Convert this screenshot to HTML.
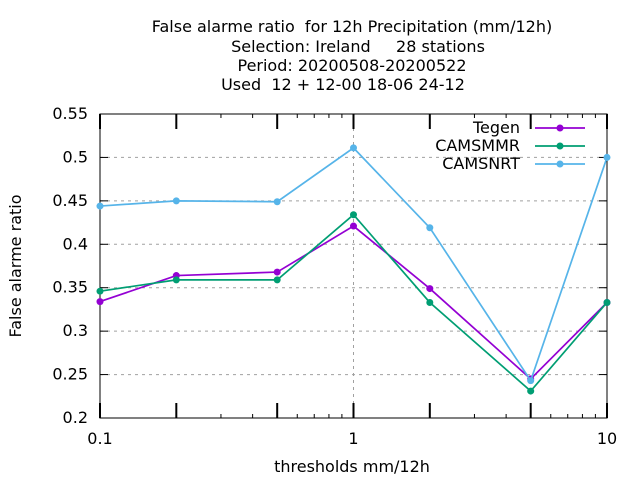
<!DOCTYPE html>
<html><head><meta charset="utf-8"><style>
body{margin:0;background:#fff}
svg text{font-family:"DejaVu Sans",sans-serif;font-size:16px;fill:#000;white-space:pre}
</style></head><body>
<svg id="chart" width="640" height="480">
<g text-anchor="middle">
<text x="352" y="32" xml:space="preserve">False alarme ratio  for 12h Precipitation (mm/12h)</text>
<text x="358" y="52" xml:space="preserve">Selection: Ireland     28 stations</text>
<text x="352" y="71" xml:space="preserve">Period: 20200508-20200522</text>
<text x="343" y="90" xml:space="preserve">Used  12 + 12-00 18-06 24-12</text>
</g>
<g id="grid"></g><g id="axes"></g><g id="series"></g>
<text x="352" y="472" text-anchor="middle">thresholds mm/12h</text>
<text transform="translate(21,266) rotate(-90)" text-anchor="middle">False alarme ratio</text>
</svg>
<script>
const thresholds=[0.1,0.2,0.5,1,2,5,10];
const seriesNames=["Tegen","CAMSMMR","CAMSNRT"];
const tegen=[0.334,0.364,0.368,0.421,0.349,0.245,0.333];
const camsmmr=[0.346,0.359,0.359,0.434,0.333,0.231,0.333];
const camsnrt=[0.444,0.450,0.449,0.511,0.419,0.243,0.500];
const yTicks=[0.2,0.25,0.3,0.35,0.4,0.45,0.5,0.55];
const yTickLabels=["0.2","0.25","0.3","0.35","0.4","0.45","0.5","0.55"];
const xTickLabels=[[0.1,"0.1"],[1,"1"],[10,"10"]];
const xMinor=[0.3,0.4,0.6,0.7,0.8,0.9,3,4,6,7,8,9];
const colors=["#9400d3","#009e73","#56b4e9"];
const L=100,R=607,T=114,B=418;
const xs=v=>L+(Math.log10(v)+1)/2*(R-L);
const ys=v=>B-(v-0.2)/0.35*(B-T);
const NS="http://www.w3.org/2000/svg";
function mk(tag,attrs,parent){const e=document.createElementNS(NS,tag);for(const k in attrs)e.setAttribute(k,attrs[k]);parent.appendChild(e);return e;}
const grid=document.getElementById('grid'),axes=document.getElementById('axes'),ser=document.getElementById('series');
yTicks.forEach((t,i)=>{const y=ys(t);
 if(i>0&&i<yTicks.length-1){const g=mk('line',{x1:L,x2:R,y1:y,y2:y,stroke:'#a0a0a0','stroke-dasharray':'3,4'},grid);
 
 }
 mk('line',{x1:L,x2:L+8,y1:y,y2:y,stroke:'#000'},axes);
 mk('line',{x1:R-8,x2:R,y1:y,y2:y,stroke:'#000'},axes);
 const tx=mk('text',{x:L-12,y:y+5,'text-anchor':'end'},axes);tx.textContent=yTickLabels[i];
 
 
});
{const x=xs(1);const g=mk('line',{x1:x,x2:x,y1:T,y2:B,stroke:'#a0a0a0','stroke-dasharray':'3,4'},grid);
 
 }
thresholds.forEach(t=>{const x=xs(t);
 mk('line',{x1:x,x2:x,y1:B,y2:B-15,stroke:'#000','stroke-width':2},axes);
 mk('line',{x1:x,x2:x,y1:T,y2:T+15,stroke:'#000','stroke-width':2},axes);});
xMinor.forEach(t=>{const x=xs(t);
 mk('line',{x1:x,x2:x,y1:B,y2:B-4,stroke:'#000'},axes);
 mk('line',{x1:x,x2:x,y1:T,y2:T+4,stroke:'#000'},axes);});
xTickLabels.forEach(([v,l])=>{const tx=mk('text',{x:xs(v),y:B+26,'text-anchor':'middle'},axes);tx.textContent=l;
 
 });
const frame=mk('rect',{x:L,y:T,width:R-L,height:B-T,fill:'none',stroke:'#000'},axes);


[tegen,camsmmr,camsnrt].forEach((d,si)=>{
 const g=mk('g',{},ser);
 
 
 mk('polyline',{points:d.map((v,i)=>xs(thresholds[i])+','+ys(v)).join(' '),fill:'none',stroke:colors[si],'stroke-width':1.7},g);
 d.forEach((v,i)=>{const p=mk('circle',{cx:xs(thresholds[i]),cy:ys(v),r:3.5,fill:colors[si]},g);
  
  });
 const ly=128+si*18;
 const le=mk('g',{},ser);
 
 
 const t=mk('text',{x:520,y:ly+5,'text-anchor':'end'},le);t.textContent=seriesNames[si];
 mk('line',{x1:535,x2:585,y1:ly,y2:ly,stroke:colors[si],'stroke-width':1.7},le);
 mk('circle',{cx:560,cy:ly,r:3.5,fill:colors[si]},le);
});
</script>
</body></html>
